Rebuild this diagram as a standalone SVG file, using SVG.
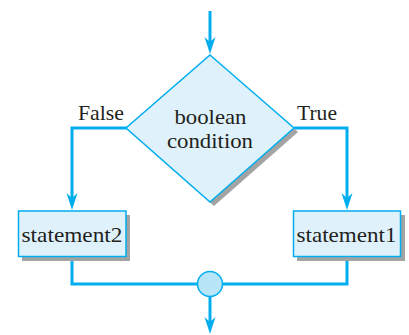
<svg xmlns="http://www.w3.org/2000/svg" width="409" height="335" viewBox="0 0 409 335">
<style>
.ln{fill:none;stroke:#00aeef;stroke-width:3}
.shape{fill:#dff2fb;stroke:#00aeef;stroke-width:1.5}
.sh{fill:#a3a3a3}
text{font-family:"Liberation Serif","Times New Roman",serif;font-size:21.5px;fill:#231f20}
</style>
<defs>
<marker id="ah" markerUnits="userSpaceOnUse" markerWidth="30" markerHeight="30" viewBox="-15 -15 30 30" refX="0" refY="0" orient="auto" overflow="visible">
<path d="M8,0 L-9,-5.5 L-4,0 L-9,5.5 Z" fill="#00aeef"/>
</marker>
</defs>
<rect width="409" height="335" fill="#ffffff"/>
<g id="connectors">
<path class="ln" d="M210,11 V46" marker-end="url(#ah)"/>
<path class="ln" d="M127,128 H72 V202" marker-end="url(#ah)"/>
<path class="ln" d="M294,128 H347 V202" marker-end="url(#ah)"/>
<path class="ln" d="M72,256 V284 H198"/>
<path class="ln" d="M347,256 V284 H222"/>
<path class="ln" d="M210,296 V326" marker-end="url(#ah)"/>
</g>
<g id="condition">
<polygon class="sh" points="214,59 298,132 214,206 130,132"/>
<polygon class="shape" points="210,55 294,128 210,202 126,128"/>
<text x="210.5" y="124" text-anchor="middle" textLength="72" lengthAdjust="spacingAndGlyphs">boolean</text>
<text x="210" y="147.5" text-anchor="middle" textLength="86" lengthAdjust="spacingAndGlyphs">condition</text>
</g>
<g id="label-false"><text x="78" y="120" textLength="46" lengthAdjust="spacingAndGlyphs">False</text></g>
<g id="label-true"><text x="297" y="120" textLength="40" lengthAdjust="spacingAndGlyphs">True</text></g>
<g id="statement2">
<rect class="sh" x="22" y="215" width="108" height="46"/>
<rect class="shape" x="18.5" y="211" width="107.5" height="45.5"/>
<text x="72" y="241.5" text-anchor="middle" textLength="101" lengthAdjust="spacingAndGlyphs">statement2</text>
</g>
<g id="statement1">
<rect class="sh" x="297" y="215" width="108" height="46"/>
<rect class="shape" x="293.5" y="211" width="107" height="45.5"/>
<text x="346.5" y="241.5" text-anchor="middle" textLength="100" lengthAdjust="spacingAndGlyphs">statement1</text>
</g>
<g id="merge">
<circle cx="210" cy="284" r="12.5" fill="#b9e5f8" stroke="#00aeef" stroke-width="1.5"/>
</g>
</svg>
